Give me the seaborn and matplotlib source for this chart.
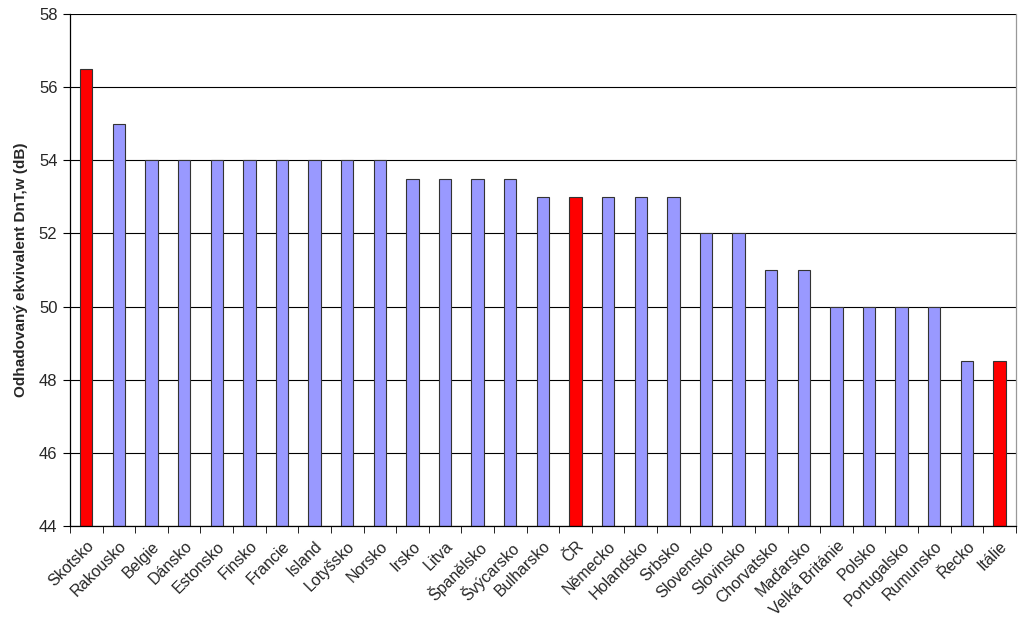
import matplotlib
matplotlib.use("Agg")
import matplotlib.pyplot as plt
import seaborn as sns
import numpy as np
import pandas as pd

countries = ["Skotsko", "Rakousko", "Belgie", "Dánsko", "Estonsko", "Finsko", "Francie",
             "Island", "Lotyšsko", "Norsko", "Irsko", "Litva", "Španělsko", "Švýcarsko",
             "Bulharsko", "ČR", "Německo", "Holandsko", "Srbsko", "Slovensko", "Slovinsko",
             "Chorvatsko", "Maďarsko", "Velká Británie", "Polsko", "Portugalsko", "Rumunsko",
             "Řecko", "Itálie"]
values = [56.5, 55, 54, 54, 54, 54, 54, 54, 54, 54, 53.5, 53.5, 53.5, 53.5,
          53, 53, 53, 53, 53, 52, 52, 51, 51, 50, 50, 50, 50, 48.5, 48.5]
highlight = ["Skotsko", "ČR", "Itálie"]
y_ticks = [44, 46, 48, 50, 52, 54, 56, 58]
y_label = "Odhadovaný ekvivalent DnT,w (dB)"

sns.set_style("white")
plt.rcParams['font.family'] = ['Liberation Sans', 'DejaVu Sans']

df = pd.DataFrame({"country": countries, "value": values})
df["group"] = ["hl" if c in highlight else "base" for c in countries]
base = 44
df["height"] = df["value"] - base

fig = plt.figure(figsize=(10.23, 6.23), dpi=100)
ax = fig.add_axes([0.0684, 0.1557, 0.9246, 0.8218])

palette = {"base": "#9999FF", "hl": "#FF0000"}
sns.barplot(data=df, x="country", y="height", hue="group", palette=palette,
            dodge=False, width=0.38, edgecolor="#333333", linewidth=0.8,
            saturation=1, legend=False, ax=ax, bottom=base)

ax.set_ylim(44, 58)
ax.set_xlim(-0.5, len(countries) - 0.5)
ax.set_yticks(y_ticks)
ax.set_yticklabels([str(t) for t in y_ticks], fontsize=12)
ax.yaxis.grid(True, color="black", linewidth=0.8)
ax.set_axisbelow(True)
ax.tick_params(axis="y", length=5, direction="out", color="black", left=True, pad=4)

ax.set_xticks(range(len(countries)))
ax.set_xticklabels(countries, rotation=45, ha="right", rotation_mode="anchor", fontsize=11.5)
ax.tick_params(axis="x", which="major", length=0, pad=9)
ax.set_xticks(np.arange(-0.5, len(countries)), minor=True)
ax.tick_params(axis="x", which="minor", length=5, direction="out", color="black", bottom=True)

ax.set_xlabel("")
ax.set_ylabel(y_label, fontsize=11, fontweight="bold", labelpad=8)

for s in ["left", "bottom"]:
    ax.spines[s].set_color("black")
    ax.spines[s].set_linewidth(0.9)
ax.spines["top"].set_visible(False)
ax.spines["right"].set_color("#999999")
ax.spines["right"].set_linewidth(0.9)

fig.savefig("out.png", dpi=100)
